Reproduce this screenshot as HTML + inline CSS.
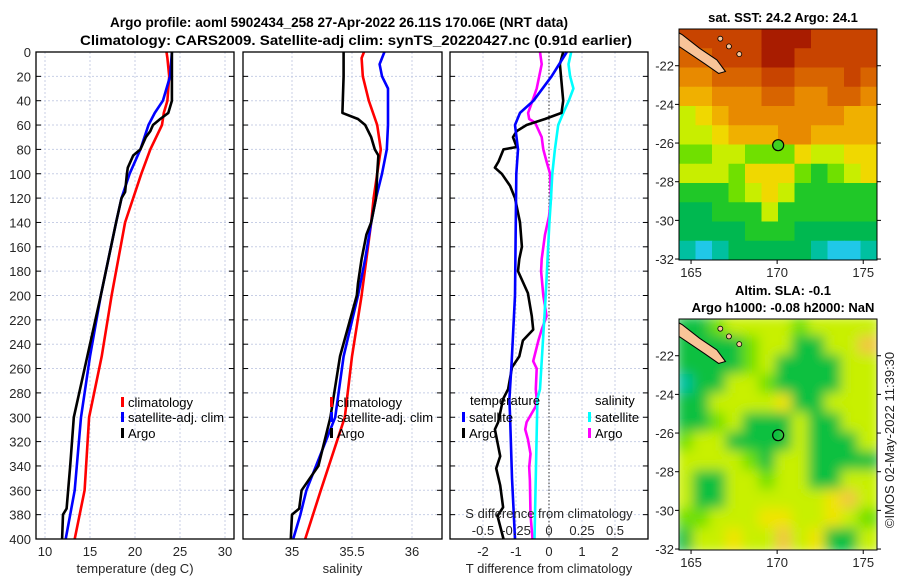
<!DOCTYPE html>
<html><head><meta charset="utf-8"><style>
html,body{margin:0;padding:0;background:#fff;}
svg{display:block;font-family:"Liberation Sans","DejaVu Sans",sans-serif;}
</style></head><body>
<svg id="fig" width="900" height="580" viewBox="0 0 900 580" xmlns="http://www.w3.org/2000/svg">
<text x="110" y="27" font-size="13.5" font-weight="bold" textLength="458" lengthAdjust="spacingAndGlyphs" fill="#000">Argo profile: aoml 5902434_258 27-Apr-2022 26.11S 170.06E (NRT data)</text>
<text x="80" y="45" font-size="13.5" font-weight="bold" textLength="552" lengthAdjust="spacingAndGlyphs" fill="#000">Climatology: CARS2009. Satellite-adj clim: synTS_20220427.nc (0.91d earlier)</text>
<g id="plots"></g>
<g id="maps"></g>
<text x="783" y="22" font-size="13" font-weight="bold" text-anchor="middle">sat. SST: 24.2 Argo: 24.1</text>
<text x="783" y="295" font-size="13" font-weight="bold" text-anchor="middle">Altim. SLA: -0.1</text>
<text x="783" y="312" font-size="13" font-weight="bold" text-anchor="middle">Argo h1000: -0.08 h2000: NaN</text>
<text transform="translate(894,440) rotate(-90)" font-size="13" text-anchor="middle" fill="#222">©IMOS 02-May-2022 11:39:30</text>
</svg>
<script>
// ---- data ----
const depthTicks = [0,20,40,60,80,100,120,140,160,180,200,220,240,260,280,300,320,340,360,380,400];
const tempTicks = [10,15,20,25,30];
const salTicks = [35,35.5,36];
const salTickLabels = ["35","35.5","36"];
const tdiffTicks = [-2,-1,0,1,2];
const sdiffTicks = [-0.5,-0.25,0,0.25,0.5];
const sdiffTickLabels = ["-0.5","-0.25","0","0.25","0.5"];

const tClimDepth = [0,5,20,40,50,60,80,100,120,140,160,200,250,300,360,400];
const tClimVal   = [23.5,23.6,23.8,23.6,23.2,23.0,21.7,20.7,19.8,18.9,18.4,17.4,16.3,14.9,14.4,13.3];
const tSatDepth = [0,20,40,50,60,80,100,120,140,200,250,300,360,400];
const tSatVal   = [24.1,23.9,23.1,22.2,21.5,20.6,19.4,18.5,17.9,16.2,15.0,14.0,13.3,12.3];
const tArgoDepth = [0,20,40,50,55,60,65,70,80,85,95,100,115,120,140,200,250,300,340,375,380,400];
const tArgoVal   = [24.1,24.1,24.1,23.7,22.8,22.0,21.7,21.2,20.6,19.8,19.2,19.1,18.9,18.5,17.9,16.2,14.7,13.2,12.8,12.4,12.0,11.9];

const sClimDepth = [0,5,20,40,60,80,100,120,140,200,250,300,360,400];
const sClimVal   = [35.60,35.58,35.59,35.64,35.71,35.74,35.71,35.68,35.66,35.58,35.50,35.44,35.24,35.11];
const sSatDepth = [0,10,20,30,60,80,100,120,140,170,200,250,300,360,380,400];
const sSatVal   = [35.77,35.73,35.75,35.80,35.80,35.79,35.75,35.70,35.66,35.61,35.55,35.43,35.36,35.12,35.07,35.01];
const sArgoDepth = [0,20,50,55,60,70,80,85,100,120,140,150,170,190,200,250,300,340,360,375,380,400];
const sArgoVal   = [35.43,35.43,35.42,35.55,35.61,35.66,35.69,35.72,35.71,35.70,35.66,35.62,35.58,35.55,35.54,35.40,35.32,35.22,35.08,35.06,35.00,34.99];

const dtSatDepth = [0,20,40,50,60,80,100,200,254,285,300,350,400];
const dtSatVal   = [0.54,0.08,-0.47,-0.88,-1.03,-0.94,-0.99,-1.03,-1.13,-1.2,-1.18,-1.12,-1.03];
const dtArgoDepth = [0,10,40,50,55,60,65,70,78,80,90,95,100,110,120,140,160,170,180,198,217,228,237,250,259,277,285,304,310,332,342,356,374,381,400];
const dtArgoVal   = [0.43,0.33,0.43,0.38,-0.12,-0.68,-0.98,-1.09,-0.98,-1.38,-1.53,-1.64,-1.43,-1.18,-1.03,-0.88,-0.82,-0.9,-0.94,-0.64,-0.52,-0.48,-0.79,-0.9,-1.12,-1.24,-1.39,-1.54,-1.64,-1.48,-1.6,-1.48,-1.39,-1.56,-1.38];
const dsSatDepth = [0,10,20,30,40,50,60,80,100,120,140,200,277,285,400];
const dsSatVal   = [0.168,0.148,0.16,0.185,0.15,0.108,0.07,0.045,0.025,0.015,0.003,-0.025,-0.068,-0.088,-0.11];
const dsArgoDepth = [0,10,30,40,50,55,58,70,80,90,100,120,135,150,170,180,200,217,228,237,254,260,277,285,291,304,310,318,330,341,352,380,400];
const dsArgoVal   = [-0.068,-0.055,-0.093,-0.125,-0.158,-0.15,-0.105,-0.055,-0.043,-0.018,0.008,0.015,0.0,-0.03,-0.055,-0.06,-0.043,-0.018,-0.055,-0.08,-0.12,-0.093,-0.1,-0.093,-0.1,-0.17,-0.18,-0.16,-0.14,-0.15,-0.145,-0.14,-0.125];

// map colour grids (rows = latitude bands N->S)
const sstRows = ["BBBBBAAABBBB","CCBBBAABBBBB","DDCCCBBCCCBC","EEDDDCCDDCCD","GFEDDDDDDDEE","GGFEEEDDEEEE","HHGGHHHFGGFF","GGGHFFFHIHGF","IIIHGFGIIIII","JJIIIGIIIIII","JJJJIIIJJJJJ","KLKJJJJJKLLK"];
const slaRows = ["IIHGGGGHGGGG","IIIIHGGIIGGE","IIIIHGIIIIGG","KIIGGHIIIIGG","IIGGGGFIIGGG","IIHGIIIGIIGG","HGGIIIIGIIIG","GGGGHIGGIIII","GIIGGHGGIIGG","GIIGGGGGGFEG","HHGGGFFGGFGH","IGGFGGEGFIIG"];
const sstPal = {A:"#a81c00",B:"#c84400",C:"#d86400",D:"#e88a00",E:"#f0b000",F:"#f0d800",G:"#c8ee00",H:"#70e000",I:"#20c828",J:"#00b850",K:"#00c0a0",L:"#20c8e8"};
const slaPal = {E:"#f0c840",F:"#f0e400",G:"#c8f000",H:"#70e000",I:"#10c040",K:"#00c0a0"};
const mapLatTicks = [-22,-24,-26,-28,-30,-32];
const mapLonTicks = [165,170,175];
const argoLon = 170.06, argoLat = -26.11;

const NS="http://www.w3.org/2000/svg";
function mk(tag, attrs, parent){const e=document.createElementNS(NS,tag);for(const k in attrs)e.setAttribute(k,attrs[k]);parent.appendChild(e);return e;}
const plots=document.getElementById('plots');
const yTop=52, yBot=539;
const yS = d => yTop + d*(yBot-yTop)/400;

function panel(name,x0,x1,vmin,vmax,ticks,labels,xlabel,showY){
  const g=mk('g',{},plots);
  
  
  const xs=v=>x0+(v-vmin)*(x1-x0)/(vmax-vmin);
  ticks.forEach((t,i)=>{
    const gl=mk('line',{x1:xs(t),x2:xs(t),y1:yTop,y2:yBot,stroke:'#c8cfe6','stroke-width':1,'stroke-dasharray':'2,2'},g);
    
    
    if(labels){const tl=mk('text',{x:xs(t),y:556,'font-size':13,'text-anchor':'middle',fill:'#262626'},g);tl.textContent=labels[i];
      
      }
  });
  depthTicks.forEach(d=>{
    if(d>0&&d<400){const gl=mk('line',{x1:x0,x2:x1,y1:yS(d),y2:yS(d),stroke:'#c8cfe6','stroke-width':1,'stroke-dasharray':'2,2'},g);
      
      }
    mk('line',{x1:x0,x2:x0+5,y1:yS(d),y2:yS(d),stroke:'#000'},g);
    mk('line',{x1:x1-5,x2:x1,y1:yS(d),y2:yS(d),stroke:'#000'},g);
    if(showY){const tl=mk('text',{x:31,y:yS(d)+5,'font-size':13,'text-anchor':'end',fill:'#262626'},g);tl.textContent=d;
      
      }
  });
  if(xlabel){const xl=mk('text',{x:(x0+x1)/2,y:573,'font-size':13,'text-anchor':'middle',fill:'#262626'},g);xl.textContent=xlabel;
    
    }
  return {g,xs,x0,x1};
}
function series(p,depths,vals,color,name,scale){
  const pts=depths.map((d,i)=>p.xs(vals[i]*(scale||1)).toFixed(1)+','+yS(d).toFixed(1)).join(' ');
  const pl=mk('polyline',{points:pts,fill:'none',stroke:color,'stroke-width':2.6,'stroke-linejoin':'round'},p.g);
  
  
}
function frame(p){const r=mk('rect',{x:p.x0,y:yTop,width:p.x1-p.x0,height:yBot-yTop,fill:'none',stroke:'#000','stroke-width':1.3},p.g);
  
  }
function legendEntry(g,x,y,color,label){
  if(color) mk('rect',{x:x,y:y-10,width:3,height:10,fill:color},g);
  const t=mk('text',{x:x+(color?7:0),y:y,'font-size':13,fill:'#000'},g);t.textContent=label;
  
  
}

// panel 1
const p1=panel('temperature-panel',36,234,9,31,tempTicks,tempTicks.map(String),'temperature (deg C)',true);
series(p1,tClimDepth,tClimVal,'#ff0000','temp-climatology-line');
series(p1,tSatDepth,tSatVal,'#0000ff','temp-satellite-line');
series(p1,tArgoDepth,tArgoVal,'#000000','temp-argo-line');
frame(p1);
legendEntry(p1.g,121,407,'#ff0000','climatology');
legendEntry(p1.g,121,422,'#0000ff','satellite-adj. clim');
legendEntry(p1.g,121,438,'#000000','Argo');

// panel 2
const p2=panel('salinity-panel',243,442,34.5917,36.25,salTicks,salTickLabels,'salinity',false);
series(p2,sClimDepth,sClimVal,'#ff0000','sal-climatology-line');
series(p2,sSatDepth,sSatVal,'#0000ff','sal-satellite-line');
series(p2,sArgoDepth,sArgoVal,'#000000','sal-argo-line');
frame(p2);
legendEntry(p2.g,330,407,'#ff0000','climatology');
legendEntry(p2.g,330,422,'#0000ff','satellite-adj. clim');
legendEntry(p2.g,330,438,'#000000','Argo');

// panel 3
const p3=panel('difference-panel',450,648,-3,3,tdiffTicks,tdiffTicks.map(String),'T difference from climatology',false);
const zl=mk('line',{x1:p3.xs(0),x2:p3.xs(0),y1:yTop,y2:yBot,stroke:'#555','stroke-width':1.2,'stroke-dasharray':'1.5,2'},p3.g);


series(p3,dsArgoDepth,dsArgoVal,'#ff00ff','sdiff-argo-line',4);
series(p3,dsSatDepth,dsSatVal,'#00ffff','sdiff-satellite-line',4);
series(p3,dtArgoDepth,dtArgoVal,'#000000','tdiff-argo-line');
series(p3,dtSatDepth,dtSatVal,'#0000ff','tdiff-satellite-line');
frame(p3);
legendEntry(p3.g,470,405,null,'temperature');
legendEntry(p3.g,462,422,'#0000ff','satellite');
legendEntry(p3.g,462,438,'#000000','Argo');
legendEntry(p3.g,595,405,null,'salinity');
legendEntry(p3.g,588,422,'#00ffff','satellite');
legendEntry(p3.g,588,438,'#ff00ff','Argo');
const st=mk('text',{x:549,y:518,'font-size':13,'text-anchor':'middle',fill:'#262626'},p3.g);st.textContent='S difference from climatology';


sdiffTicks.forEach((s,i)=>{const t=mk('text',{x:p3.xs(s*4),y:535,'font-size':13,'text-anchor':'middle',fill:'#262626'},p3.g);t.textContent=sdiffTickLabels[i];
  
  });

// maps
const maps=document.getElementById('maps');
function drawMap(name,top,bot,rows,pal,blur,circleFill){
  const g=mk('g',{},maps);
  
  
  const x0=679,x1=877,lonMin=164.3,lonMax=175.8,latMax=-20.1,latMin=-32.05;
  const xs=l=>x0+(l-lonMin)*(x1-x0)/(lonMax-lonMin);
  const ys=l=>top+(latMax-l)*(bot-top)/(latMax-latMin);
  const clipId=name+'-clip';
  const cp=mk('clipPath',{id:clipId},g);mk('rect',{x:x0,y:top,width:x1-x0,height:bot-top},cp);
  const inner=mk('g',{'clip-path':'url(#'+clipId+')'},g);
  const ig=mk('g',blur?{filter:'url(#blurf)'}:{},inner);
  const nr=rows.length,nc=rows[0].length,cw=(x1-x0)/nc,rh=(bot-top)/nr;
  rows.forEach((r,i)=>{[...r].forEach((c,j)=>{mk('rect',{x:x0+j*cw-3,y:top+i*rh-3,width:cw+6,height:rh+6,fill:pal[c]},ig);});});
  if(!blur){rows.forEach((r,i)=>{[...r].forEach((c,j)=>{mk('rect',{x:x0+j*cw,y:top+i*rh,width:cw+0.5,height:rh+0.5,fill:pal[c]},inner);});});}
  const land=mk('polygon',{points:[[164.3,-20.3],[164.5,-20.4],[165.5,-21.1],[166.5,-21.7],[167.0,-22.3],[166.6,-22.4],[165.8,-21.9],[164.8,-21.3],[164.3,-21.0]].map(p=>xs(p[0])+','+ys(p[1])).join(' '),fill:'#f8c498',stroke:'#000','stroke-width':1},inner);
  
  
  [[166.7,-20.6],[167.2,-21.0],[167.8,-21.4]].forEach(p=>mk('circle',{cx:xs(p[0]),cy:ys(p[1]),r:2.5,fill:'#f8c498',stroke:'#000','stroke-width':0.8},inner));
  const c=mk('circle',{cx:xs(argoLon),cy:ys(argoLat),r:5.5,fill:circleFill,stroke:'#000','stroke-width':1.2},g);
  
  
  mk('rect',{x:x0,y:top,width:x1-x0,height:bot-top,fill:'none',stroke:'#000','stroke-width':1},g);
  mapLatTicks.forEach(l=>{mk('line',{x1:x0-4,x2:x0,y1:ys(l),y2:ys(l),stroke:'#000'},g);mk('line',{x1:x1,x2:x1+4,y1:ys(l),y2:ys(l),stroke:'#000'},g);
    const t=mk('text',{x:x0-5,y:ys(l)+5,'font-size':13,'text-anchor':'end',fill:'#262626'},g);t.textContent=l;
    
    });
  mapLonTicks.forEach(l=>{mk('line',{x1:xs(l),x2:xs(l),y1:bot,y2:bot+4,stroke:'#000'},g);
    const t=mk('text',{x:xs(l),y:bot+17,'font-size':13,'text-anchor':'middle',fill:'#262626'},g);t.textContent=l;
    
    });
}
const defs=mk('defs',{},document.getElementById('fig'));
const f=mk('filter',{id:'blurf',x:'-10%',y:'-10%',width:'120%',height:'120%'},defs);mk('feGaussianBlur',{stdDeviation:6},f);
drawMap('sst-map',29,260,sstRows,sstPal,false,'#40d020');
drawMap('sla-map',319,550,slaRows,slaPal,true,'none');
</script>
</body></html>
